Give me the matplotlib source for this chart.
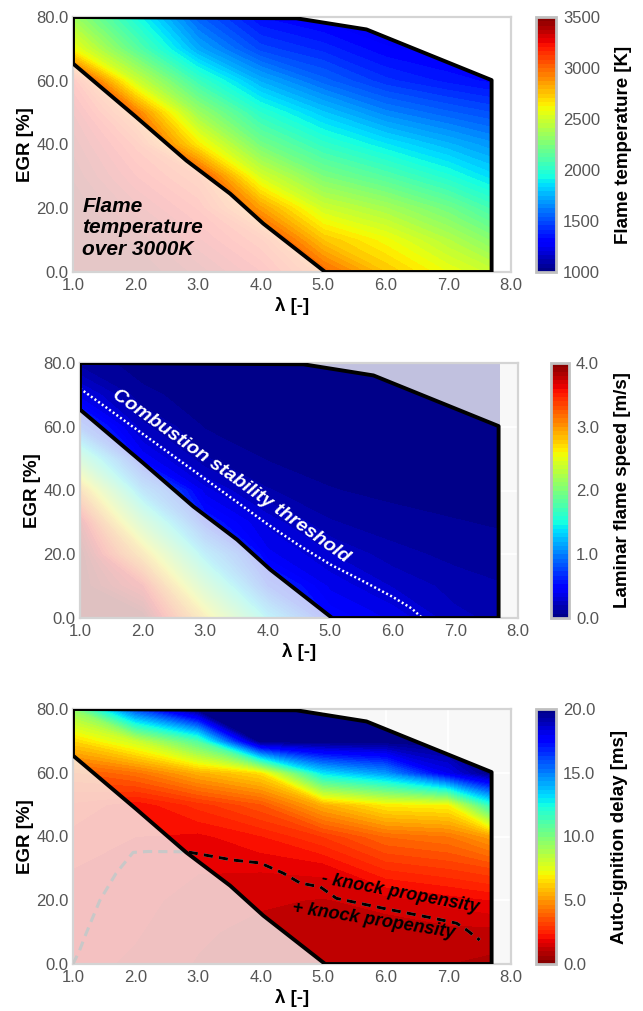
import numpy as np
import matplotlib.pyplot as plt
from matplotlib.colors import ListedColormap, to_rgb
from matplotlib.patches import Polygon

plt.rcParams['font.family'] = ['Liberation Sans', 'DejaVu Sans']

# operating grid: lambda [-] (columns) and EGR [%] (rows)
lam = [1.0, 2.0, 3.0, 4.0, 5.0, 6.0, 7.0, 7.7]
egr = [0, 10, 20, 30, 40, 50, 60, 70, 80]

# flame temperature [K]
t_flame = [
    [3700, 3550, 3400, 3250, 3000, 2750, 2580, 2480],
    [3600, 3450, 3300, 3130, 2750, 2600, 2420, 2280],
    [3500, 3350, 3200, 2850, 2500, 2380, 2220, 2070],
    [3450, 3250, 3080, 2520, 2250, 2120, 1970, 1850],
    [3400, 3150, 2650, 2230, 2020, 1880, 1760, 1680],
    [3330, 2950, 2350, 2000, 1800, 1640, 1550, 1500],
    [3200, 2500, 2050, 1740, 1560, 1430, 1360, 1320],
    [2600, 2150, 1730, 1480, 1400, 1300, 1260, 1230],
    [2350, 1950, 1550, 1330, 1270, 1220, 1180, 1160],
]

# laminar flame speed [m/s]
s_lam = [
    [4.60, 4.00, 2.75, 1.40, 0.52, 0.38, 0.22, 0.18],
    [4.40, 3.60, 2.00, 0.72, 0.38, 0.26, 0.17, 0.14],
    [4.10, 2.85, 1.30, 0.42, 0.27, 0.16, 0.11, 0.09],
    [3.75, 2.00, 0.62, 0.31, 0.14, 0.09, 0.07, 0.06],
    [3.00, 1.15, 0.36, 0.14, 0.07, 0.05, 0.04, 0.04],
    [1.90, 0.45, 0.14, 0.06, 0.04, 0.03, 0.03, 0.03],
    [0.80, 0.22, 0.06, 0.04, 0.03, 0.02, 0.02, 0.02],
    [0.36, 0.08, 0.04, 0.03, 0.02, 0.02, 0.02, 0.02],
    [0.10, 0.04, 0.03, 0.02, 0.02, 0.02, 0.02, 0.02],
]

# combustion stability threshold
thr_lam = [1.0, 2.0, 3.0, 4.0, 4.5, 5.0, 5.5, 6.0, 6.3, 6.47]
thr_egr = [72.0, 57.8, 43.6, 29.4, 22.8, 16.8, 11.8, 6.6, 3.0, 0.0]

# auto-ignition delay [ms]
tau_ign = [
    [1.8, 1.6, 1.3, 1.1, 1.0, 1.0, 1.0, 0.9],
    [1.8, 1.7, 1.4, 1.2, 1.1, 1.1, 1.2, 1.2],
    [1.9, 1.8, 1.5, 1.4, 1.3, 1.5, 1.8, 2.0],
    [2.0, 1.9, 1.7, 1.7, 1.8, 2.7, 3.0, 3.3],
    [2.2, 2.0, 1.9, 2.3, 3.0, 4.0, 4.3, 5.2],
    [2.6, 2.1, 2.8, 3.6, 5.5, 6.8, 7.0, 12.0],
    [3.6, 4.2, 5.5, 6.5, 13.0, 14.5, 18.0, 22.0],
    [6.3, 8.0, 11.0, 25.0, 25.0, 25.0, 25.0, 25.0],
    [9.5, 16.0, 22.0, 25.0, 25.0, 25.0, 25.0, 25.0],
]

# operating window boundary
win_lam = [1.0, 4.57, 5.69, 7.69, 7.69, 5.03, 4.04, 3.51, 2.81, 2.01, 1.0]
win_egr = [80.0, 79.6, 76.1, 60.2, 0.0, 0.0, 15.2, 24.6, 35.0, 48.6, 65.4]

# knock propensity border
knock_lam = [1.0, 1.1, 1.21, 1.43, 1.69, 1.96, 2.2, 2.82, 3.56, 3.99, 4.36,
             4.63, 4.95, 5.21, 5.95, 6.75, 7.13, 7.29, 7.5]
knock_egr = [0, 4, 9.6, 20, 28.5, 35, 35.3, 35.2, 32.6, 31.7, 28.5,
             25.4, 24.2, 20.6, 17.5, 14.4, 12.8, 10.7, 7.5]

win_pts = list(zip(win_lam, win_egr))
low_pts = [(1.0, 0.0)] + win_pts[5:]   # region below the window (too hot)

fig = plt.figure(figsize=(6.43, 10.11), dpi=100)
W, H = 643, 1011


def px_axes(x0, y0, x1, y1):
    return fig.add_axes([x0 / W, 1 - y1 / H, (x1 - x0) / W, (y1 - y0) / H])


def faded_cmap(name, face, alpha=0.22):
    # colormap pre-blended with the background, avoids seams of alpha bands
    cols = plt.get_cmap(name)(np.linspace(0, 1, 256))[:, :3]
    bg = np.array(to_rgb(face))
    return ListedColormap((1 - alpha) * bg + alpha * cols)


def draw_panel(ax, cax, values, vmin, vmax, cmap, cb_ticks, cb_fmt, cb_label,
               face, clip_faded):
    z = np.clip(np.array(values, float), vmin, vmax)
    levels = np.linspace(vmin, vmax, 61)
    ax.set_facecolor(face)
    ax.set_axisbelow(True)
    ax.grid(True, color='white', lw=1.3, zorder=0)

    faded = ax.contourf(lam, egr, z, levels=levels, cmap=faded_cmap(cmap, face),
                        vmin=vmin, vmax=vmax, zorder=1)
    if clip_faded:
        faded.set_clip_path(Polygon(low_pts, closed=True, transform=ax.transData))

    cs = ax.contourf(lam, egr, z, levels=levels, cmap=cmap, vmin=vmin,
                     vmax=vmax, zorder=2)
    cs.set_clip_path(Polygon(win_pts, closed=True, transform=ax.transData))
    ax.add_patch(Polygon(win_pts, closed=True, fill=False, ec='black', lw=2.8,
                         joinstyle='round', zorder=6))

    ax.set_xlim(1, 8)
    ax.set_ylim(0, 80)
    ax.set_xticks(np.arange(1, 9))
    ax.set_yticks(np.arange(0, 81, 20))
    ax.xaxis.set_major_formatter('{x:.1f}')
    ax.yaxis.set_major_formatter('{x:.1f}')
    ax.tick_params(length=0, labelsize=12, labelcolor='#555555', pad=3)
    ax.tick_params(axis='x', pad=4.5)
    for sp in ax.spines.values():
        sp.set_color('#d4d4d4')
        sp.set_linewidth(1.6)
    ax.set_xlabel('λ [-]', fontsize=13.5, fontweight='bold', labelpad=3)
    ax.set_ylabel('EGR [%]', fontsize=13.5, fontweight='bold', labelpad=2)

    cb = fig.colorbar(cs, cax=cax, ticks=cb_ticks, format=cb_fmt)
    cb.outline.set_edgecolor('#c0c0c0')
    cb.outline.set_linewidth(2)
    cax.tick_params(length=0, labelsize=12, labelcolor='#555555', pad=5)
    cb.set_label(cb_label, fontsize=13.5, fontweight='bold', labelpad=11)
    return cs


# panel 1: flame temperature
ax1 = px_axes(73, 17, 511, 272)
cax1 = px_axes(536, 17, 556, 272)
draw_panel(ax1, cax1, t_flame, 1000, 3500, 'jet', np.arange(1000, 3501, 500),
           '{x:.0f}', 'Flame temperature [K]', 'white', True)
ax1.text(1.15, 23.5, 'Flame\ntemperature\nover 3000K', fontsize=15,
         fontweight='bold', style='italic', ha='left', va='top',
         linespacing=1.15, zorder=7)

# panel 2: laminar flame speed
ax2 = px_axes(80, 363, 518, 618)
cax2 = px_axes(551, 363, 569, 618)
draw_panel(ax2, cax2, s_lam, 0.0, 4.0, 'jet', np.arange(0, 4.01, 1.0),
           '{x:.1f}', 'Laminar flame speed [m/s]', '#f8f8f8', False)
ax2.plot(thr_lam, thr_egr, color='white', lw=1.8, ls=(0, (0.8, 1.0)), zorder=5)
ax2.text(3.41, 44.5, 'Combustion stability threshold', color='white',
         fontsize=14, fontweight='bold', style='italic', rotation=-35.4,
         rotation_mode='anchor', ha='center', va='center', zorder=7)

# panel 3: auto-ignition delay
ax3 = px_axes(73, 709, 511, 964)
cax3 = px_axes(536, 709, 556, 964)
draw_panel(ax3, cax3, tau_ign, 0.0, 20.0, 'jet_r', np.arange(0, 20.1, 5.0),
           '{x:.1f}', 'Auto-ignition delay [ms]', '#f8f8f8', True)
ax3.plot(knock_lam, knock_egr, color='#c8c8c8', lw=2.2, ls=(0, (3, 2)),
         zorder=5)
kl, = ax3.plot(knock_lam, knock_egr, color='black', lw=2.2, ls=(0, (3, 2)),
               zorder=5)
kl.set_clip_path(Polygon(win_pts, closed=True, transform=ax3.transData))
ax3.text(6.23, 22.3, '- knock propensity', fontsize=13, fontweight='bold',
         style='italic', rotation=-10.5, rotation_mode='anchor',
         ha='center', va='center', zorder=7)
ax3.text(5.80, 13.8, '+ knock propensity', fontsize=13, fontweight='bold',
         style='italic', rotation=-9, rotation_mode='anchor',
         ha='center', va='center', zorder=7)

fig.savefig('out.png', dpi=100)
